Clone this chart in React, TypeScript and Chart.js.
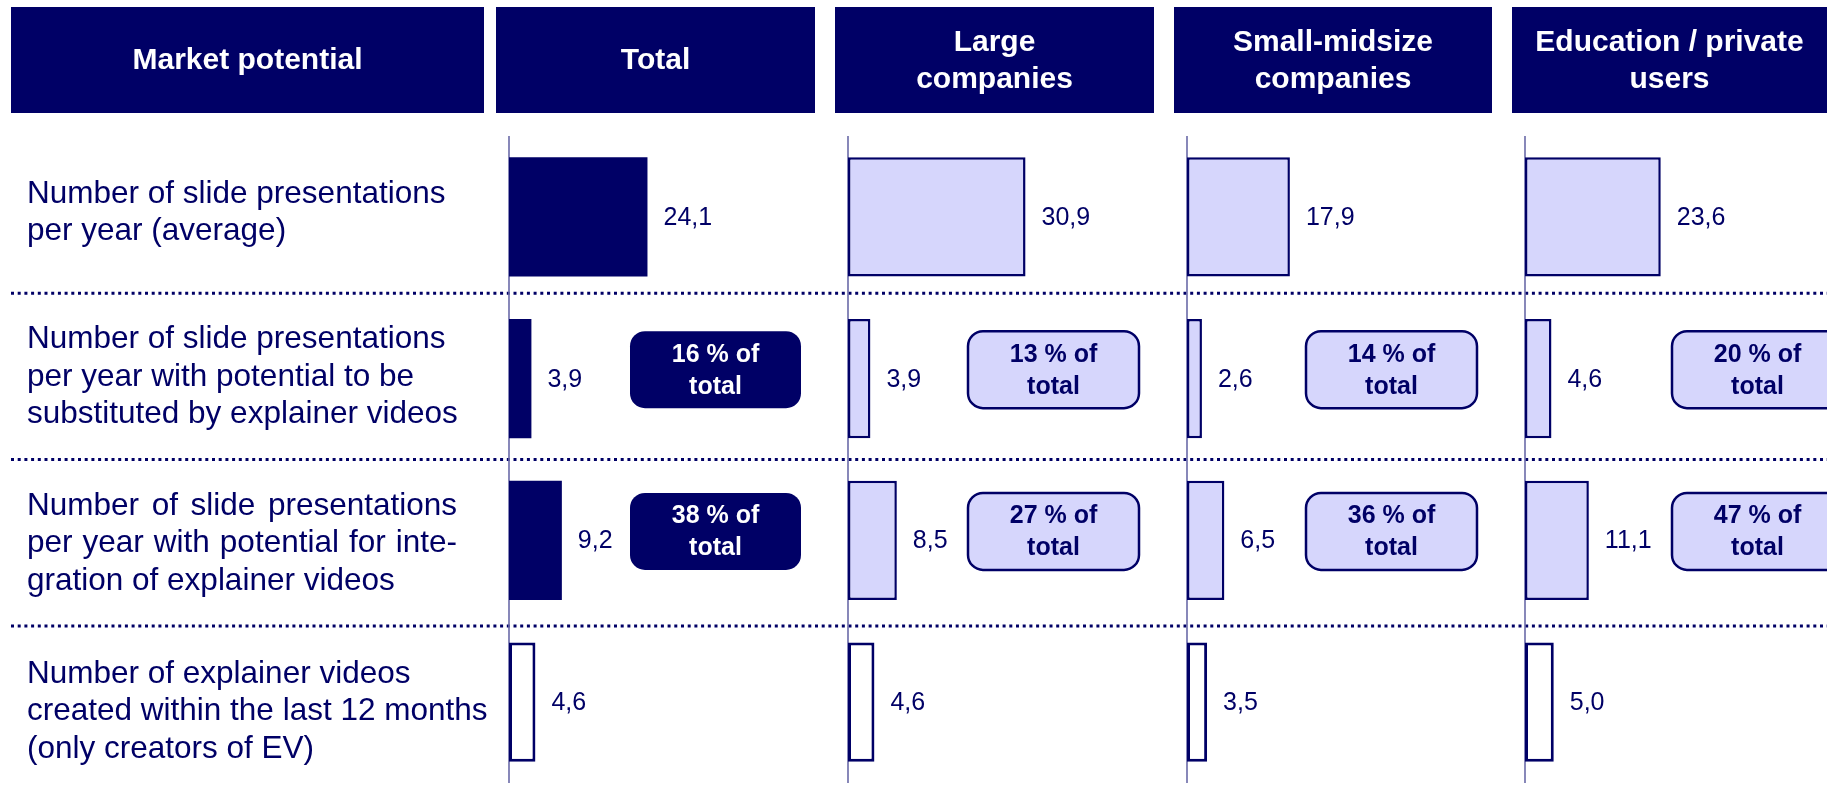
import React, { useEffect, useRef } from 'react';
import { Chart, registerables } from 'chart.js';

Chart.register(...registerables);

// ---------- data ----------
const cornerHeader = ['Market potential'];
const segmentHeaders = [
  ['Total'],
  ['Large', 'companies'],
  ['Small-midsize', 'companies'],
  ['Education / private', 'users'],
];
const rowLabels = [
  ['Number of slide presentations', 'per year (average)'],
  ['Number of slide presentations', 'per year with potential to be', 'substituted by explainer videos'],
  ['Number of slide presentations', 'per year with potential for inte-', 'gration of explainer videos'],
  ['Number of explainer videos', 'created within the last 12 months', '(only creators of EV)'],
];
const justifiedRows = [false, false, true, false];
const totalValues = [24.1, 3.9, 9.2, 4.6];
const largeValues = [30.9, 3.9, 8.5, 4.6];
const smallMidValues = [17.9, 2.6, 6.5, 3.5];
const educationValues = [23.6, 4.6, 11.1, 5.0];
const substitutionShare = [16, 13, 14, 20];
const integrationShare = [38, 27, 36, 47];

// ---------- style / layout ----------
const NAVY = '#000066';
const LAVENDER = '#d6d6fc';
const AXIS_LINE = '#6a6aa8';
const FONT = "'Liberation Sans', Arial, Helvetica, sans-serif";
const W = 1827;
const H = 791;
const AXIS_IDS = ['x0', 'x1', 'x2', 'x3'];
const COLUMN_WEIGHTS = [339, 339, 338, 302];
const COLUMN_MAX = [59, 59, 58.8, 52.5];
const BADGE_OFFSET = [121, 120, 119, 147];
const BADGE_W = 171;
const BADGE_H = 77;
const LABEL_SHIFT = [-4, -1.5, 3, 9.5];
const SEP_SHIFT = [-4.5, 0, 4.7];
const LABEL_X = 27;
const JUSTIFY_WIDTH = 430;

const columnSeries = [totalValues, largeValues, smallMidValues, educationValues];

function fmt(v: number) {
  return v.toFixed(1).replace('.', ',');
}

function roundRect(ctx: CanvasRenderingContext2D, x: number, y: number, w: number, h: number, r: number) {
  ctx.beginPath();
  ctx.moveTo(x + r, y);
  ctx.lineTo(x + w - r, y);
  ctx.arcTo(x + w, y, x + w, y + r, r);
  ctx.lineTo(x + w, y + h - r);
  ctx.arcTo(x + w, y + h, x + w - r, y + h, r);
  ctx.lineTo(x + r, y + h);
  ctx.arcTo(x, y + h, x, y + h - r, r);
  ctx.lineTo(x, y + r);
  ctx.arcTo(x, y, x + r, y, r);
  ctx.closePath();
}

function drawJustified(ctx: CanvasRenderingContext2D, text: string, x: number, y: number, width: number) {
  const words = text.split(' ');
  if (words.length < 2) {
    ctx.fillText(text, x, y);
    return;
  }
  const wordsWidth = words.reduce((s, w) => s + ctx.measureText(w).width, 0);
  const gap = (width - wordsWidth) / (words.length - 1);
  let cx = x;
  words.forEach((w) => {
    ctx.fillText(w, cx, y);
    cx += ctx.measureText(w).width + gap;
  });
}

const layoutPlugin = {
  id: 'marketLayout',
  beforeDraw(chart: any) {
    const ctx: CanvasRenderingContext2D = chart.ctx;
    const yScale = chart.scales.y;
    const xs = AXIS_IDS.map((id) => chart.scales[id]);
    ctx.save();
    ctx.fillStyle = '#ffffff';
    ctx.fillRect(0, 0, chart.width, chart.height);

    // header boxes
    const headerTop = 7;
    const headerBottom = 113;
    const boxes: { l: number; r: number; lines: string[] }[] = [];
    boxes.push({ l: 11, r: xs[0].left - 25, lines: cornerHeader });
    xs.forEach((s: any, i: number) => {
      const l = s.left - 13;
      const r = i < xs.length - 1 ? xs[i + 1].left - 33 : chart.width;
      boxes.push({ l, r, lines: segmentHeaders[i] });
    });
    ctx.font = `bold 30px ${FONT}`;
    ctx.textAlign = 'center';
    ctx.textBaseline = 'middle';
    boxes.forEach((b) => {
      ctx.fillStyle = NAVY;
      ctx.fillRect(b.l, headerTop, b.r - b.l, headerBottom - headerTop);
      ctx.fillStyle = '#ffffff';
      const cy = (headerTop + headerBottom) / 2;
      const lh = 37;
      b.lines.forEach((t, k) => {
        ctx.fillText(t, (b.l + b.r) / 2, cy + (k - (b.lines.length - 1) / 2) * lh + 1);
      });
    });

    // row labels
    ctx.font = `31.5px ${FONT}`;
    ctx.textAlign = 'left';
    ctx.fillStyle = NAVY;
    rowLabels.forEach((lines, r) => {
      const cy = yScale.getPixelForValue(r) + LABEL_SHIFT[r];
      const lh = 37.5;
      lines.forEach((t, k) => {
        const ly = cy + (k - (lines.length - 1) / 2) * lh;
        if (justifiedRows[r] && k < lines.length - 1) {
          drawJustified(ctx, t, LABEL_X, ly, JUSTIFY_WIDTH);
        } else {
          ctx.fillText(t, LABEL_X, ly);
        }
      });
    });

    // dotted separators
    ctx.strokeStyle = NAVY;
    ctx.lineWidth = 3;
    ctx.setLineDash([3, 3.7]);
    for (let r = 0; r < rowLabels.length - 1; r++) {
      const yy = (yScale.getPixelForValue(r) + yScale.getPixelForValue(r + 1)) / 2 + SEP_SHIFT[r];
      ctx.beginPath();
      ctx.moveTo(11, yy);
      ctx.lineTo(chart.width, yy);
      ctx.stroke();
    }
    ctx.setLineDash([]);
    ctx.restore();
  },
  beforeDatasetsDraw(chart: any) {
    const ctx: CanvasRenderingContext2D = chart.ctx;
    const area = chart.chartArea;
    ctx.save();
    ctx.strokeStyle = AXIS_LINE;
    ctx.lineWidth = 1.6;
    AXIS_IDS.forEach((id) => {
      const x = chart.scales[id].getPixelForValue(0);
      ctx.beginPath();
      ctx.moveTo(x, area.top);
      ctx.lineTo(x, area.bottom);
      ctx.stroke();
    });
    ctx.restore();
  },
  afterDatasetsDraw(chart: any) {
    const ctx: CanvasRenderingContext2D = chart.ctx;
    const yScale = chart.scales.y;
    ctx.save();
    // value labels
    ctx.font = `25px ${FONT}`;
    ctx.fillStyle = NAVY;
    ctx.textAlign = 'left';
    ctx.textBaseline = 'middle';
    chart.data.datasets.forEach((ds: any, di: number) => {
      const meta = chart.getDatasetMeta(di);
      meta.data.forEach((el: any, i: number) => {
        ctx.fillText(fmt(ds.data[i]), el.x + 16, el.y + 1);
      });
    });
    // share badges
    const badgeRows: [number, number[]][] = [
      [1, substitutionShare],
      [2, integrationShare],
    ];
    AXIS_IDS.forEach((id, c) => {
      const x0 = chart.scales[id].getPixelForValue(0) + BADGE_OFFSET[c];
      badgeRows.forEach(([row, shares]) => {
        const cy = yScale.getPixelForValue(row) - 9;
        const top = cy - BADGE_H / 2;
        roundRect(ctx, x0, top, BADGE_W, BADGE_H, 15);
        ctx.fillStyle = c === 0 ? NAVY : LAVENDER;
        ctx.fill();
        if (c !== 0) {
          ctx.strokeStyle = NAVY;
          ctx.lineWidth = 2.5;
          ctx.stroke();
        }
        ctx.fillStyle = c === 0 ? '#ffffff' : NAVY;
        ctx.font = `bold 25px ${FONT}`;
        ctx.textAlign = 'center';
        ctx.textBaseline = 'middle';
        const cx = x0 + BADGE_W / 2;
        ctx.fillText(`${shares[c]} % of`, cx, cy - 15);
        ctx.fillText('total', cx, cy + 17);
      });
    });
    ctx.restore();
  },
};

export default function App() {
  const canvasRef = useRef<HTMLCanvasElement | null>(null);

  useEffect(() => {
    const canvas = canvasRef.current;
    if (!canvas) return;
    const datasets = columnSeries.map((vals, c) => ({
      label: segmentHeaders[c].join(' '),
      data: vals,
      xAxisID: AXIS_IDS[c],
      yAxisID: 'y',
      grouped: false,
      categoryPercentage: 1,
      barPercentage: 0.737,
      backgroundColor: vals.map((_, r) => (r === 3 ? '#ffffff' : c === 0 ? NAVY : LAVENDER)),
      borderColor: NAVY,
      borderWidth: vals.map((_, r) => (r === 3 ? 3 : c === 0 ? 0 : 2.5)),
      borderSkipped: false,
    }));

    const scales: any = {
      y: {
        type: 'category',
        offset: true,
        display: false,
      },
    };
    AXIS_IDS.forEach((id, c) => {
      scales[id] = {
        type: 'linear',
        axis: 'x',
        position: 'bottom',
        stack: 'columns',
        stackWeight: COLUMN_WEIGHTS[c],
        min: 0,
        max: COLUMN_MAX[c],
        display: false,
        grid: { display: false },
      };
    });

    const chart = new Chart(canvas, {
      type: 'bar',
      data: {
        labels: rowLabels.map((l) => l.join(' ')),
        datasets: datasets as any,
      },
      options: {
        indexAxis: 'y',
        animation: false,
        responsive: false,
        devicePixelRatio: 1,
        layout: { padding: { top: 136, bottom: 8, left: 509, right: 0 } },
        scales,
        plugins: {
          legend: { display: false },
          tooltip: { enabled: false },
        },
      } as any,
      plugins: [layoutPlugin as any],
    });
    return () => chart.destroy();
  }, []);

  return (
    <div style={{ position: 'absolute', left: 0, top: 0, width: W, height: H, background: '#fff' }}>
      <canvas ref={canvasRef} width={W} height={H} style={{ display: 'block', width: W, height: H }} />
    </div>
  );
}
